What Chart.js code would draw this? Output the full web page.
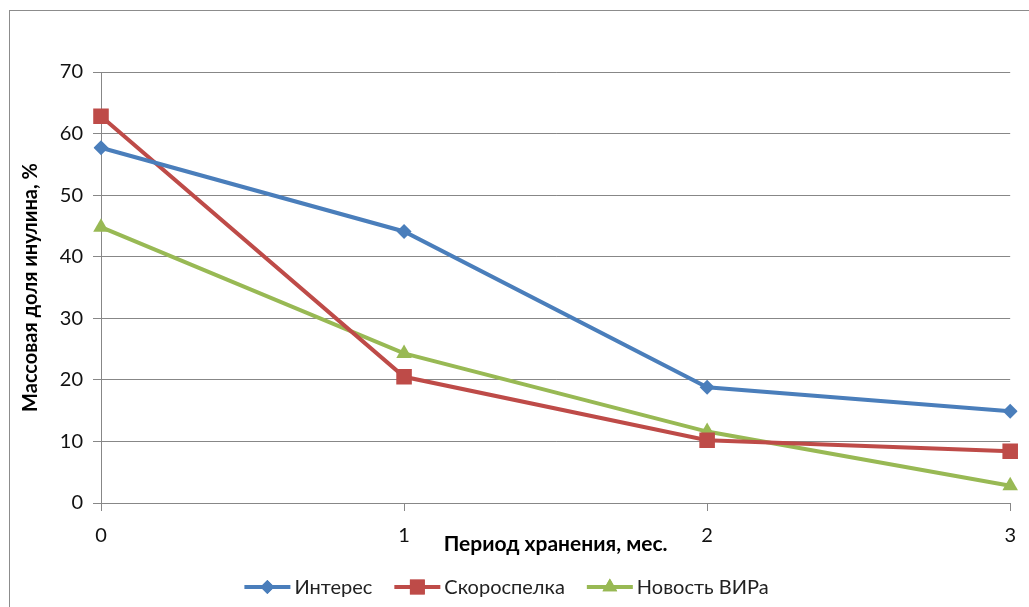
<!DOCTYPE html>
<html>
<head>
<meta charset="utf-8">
<script src="https://cdn.jsdelivr.net/npm/chart.js@4/dist/chart.umd.min.js"></script>
<style>
  html, body { margin: 0; padding: 0; background: #fff; overflow: hidden; }
  #wrap { width: 1029px; height: 607px; position: relative; }
</style>
</head>
<body>
<div id="wrap"><canvas id="c"></canvas></div>
<script>
// Storage period, months
const months = ['0', '1', '2', '3'];

// Inulin mass fraction, %
const interes = [57.7, 44.1, 18.8, 14.9];
const skorospelka = [62.8, 20.5, 10.2, 8.4];
const novostVIRa = [44.8, 24.3, 11.6, 2.8];

const seriesNames = ['Интерес', 'Скороспелка', 'Новость ВИРа'];
const yTicks = [0, 10, 20, 30, 40, 50, 60, 70];

const FONT = 'Lato, "Open Sans", sans-serif';
const GRID = '#878787';

// Thin frame around the whole chart
const framePlugin = {
  id: 'frame',
  beforeDraw(chart) {
    const ctx = chart.ctx;
    ctx.save();
    ctx.strokeStyle = '#8c8c8c';
    ctx.lineWidth = 1;
    ctx.strokeRect(9.5, 10.5, 1100, 700);
    ctx.restore();
  }
};

// Legend entries drawn as a line segment with the series marker in the middle
const lineLegendPlugin = {
  id: 'lineLegend',
  afterDraw(chart) {
    const ctx = chart.ctx;
    const sets = chart.data.datasets;
    const lineW = 46, gapText = 4, gapItem = 22;
    ctx.save();
    ctx.font = '20px ' + FONT;
    ctx.textBaseline = 'middle';
    const widths = sets.map(d => lineW + gapText + ctx.measureText(d.label).width);
    const total = widths.reduce((a, b) => a + b, 0) + gapItem * (sets.length - 1);
    let x = (chart.width - total) / 2 - 8;
    const y = 587;
    sets.forEach((d, i) => {
      ctx.strokeStyle = d.borderColor;
      ctx.lineWidth = 4;
      ctx.beginPath();
      ctx.moveTo(x, y);
      ctx.lineTo(x + lineW, y);
      ctx.stroke();
      ctx.fillStyle = d.backgroundColor;
      Chart.helpers.drawPoint(ctx, {
        pointStyle: d.pointStyle,
        rotation: 0,
        borderWidth: 0,
        radius: d.legendRadius
      }, x + lineW / 2, y);
      ctx.fill();
      ctx.fillStyle = '#222';
      ctx.fillText(d.label, x + lineW + gapText, y + 1);
      x += widths[i] + gapItem;
    });
    ctx.restore();
  }
};

new Chart(document.getElementById('c'), {
  type: 'line',
  data: {
    labels: months,
    datasets: [
      {
        label: seriesNames[0], data: interes,
        borderColor: '#4A7EBB', backgroundColor: '#4A7EBB',
        pointStyle: 'rectRot', pointRadius: 7.5, legendRadius: 7
      },
      {
        label: seriesNames[1], data: skorospelka,
        borderColor: '#BE4B48', backgroundColor: '#BE4B48',
        pointStyle: 'rect', pointRadius: 11, legendRadius: 10.5
      },
      {
        label: seriesNames[2], data: novostVIRa,
        borderColor: '#98B954', backgroundColor: '#98B954',
        pointStyle: 'triangle', pointRadius: 9, legendRadius: 8.5
      }
    ].map(d => Object.assign({
      borderWidth: 4,
      tension: 0,
      fill: false,
      pointBorderWidth: 0,
      pointHoverRadius: d.pointRadius
    }, d))
  },
  options: {
    responsive: true,
    maintainAspectRatio: false,
    animation: false,
    devicePixelRatio: 1,
    layout: { padding: { left: 10, top: 72, right: 12, bottom: 50 } },
    plugins: {
      legend: { display: false },
      tooltip: { enabled: false },
      title: { display: false }
    },
    scales: {
      x: {
        type: 'category',
        offset: false,
        grid: {
          drawOnChartArea: false,
          drawTicks: true,
          tickLength: 8,
          color: GRID
        },
        border: { display: true, color: GRID },
        ticks: {
          color: '#111',
          font: { family: FONT, size: 20 },
          padding: 13,
          maxRotation: 0
        },
        title: {
          display: true,
          text: 'Период хранения, мес.',
          color: '#000',
          font: { family: FONT, size: 21, weight: 'bold' },
          padding: { top: 0, bottom: 0 }
        },
        afterFit(scale) { scale.height = 54; }
      },
      y: {
        min: 0,
        max: 70,
        afterBuildTicks(scale) { scale.ticks = yTicks.map(v => ({ value: v })); },
        grid: {
          color: GRID,
          drawTicks: true,
          tickLength: 8
        },
        border: { display: true, color: GRID },
        ticks: {
          color: '#111',
          font: { family: FONT, size: 20 },
          padding: 10
        },
        title: {
          display: true,
          text: 'Массовая доля инулина, %',
          color: '#000',
          font: { family: FONT, size: 20, weight: 'bold' },
          padding: { top: 9, bottom: 0 }
        },
        afterFit(scale) { scale.width = 91; }
      }
    }
  },
  plugins: [framePlugin, lineLegendPlugin]
});
</script>
</body>
</html>
